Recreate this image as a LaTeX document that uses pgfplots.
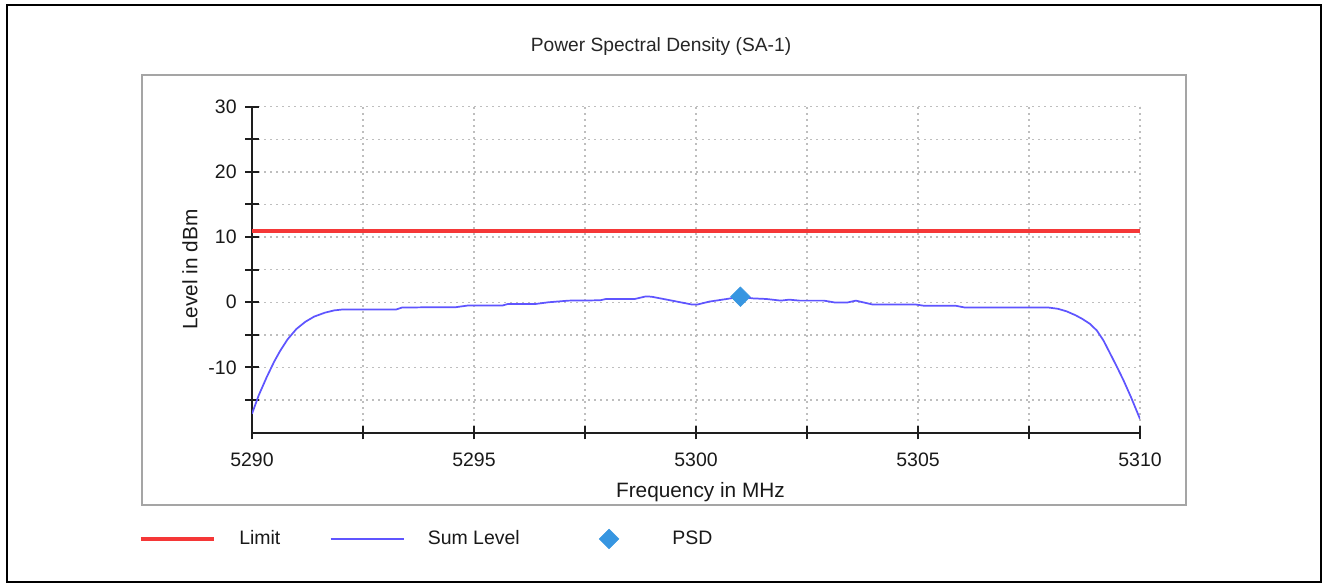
\documentclass[border=0pt]{standalone}
\usepackage{pgfplots}
\pgfplotsset{compat=1.18}
\usepackage{fontspec}
\setmainfont{Liberation Sans}
\definecolor{limitred}{RGB}{245,55,55}
\definecolor{sumblue}{RGB}{95,85,255}
\definecolor{psdblue}{RGB}{55,150,225}
\definecolor{gridgray}{RGB}{190,190,190}
\definecolor{framegray}{RGB}{165,165,165}
\definecolor{axisblack}{RGB}{30,30,30}
\pgfplotsset{
  linelegend/.style={legend image code/.code={\draw[##1] (0pt,0pt) -- (54.75pt,0pt);}},
  marklegend/.style={legend image code/.code={\path[draw=none,fill=none] (0pt,-1pt) rectangle (60pt,1pt);\draw[mark repeat=2,mark phase=2,##1] plot coordinates {(0pt,0pt) (30pt,0pt) (60pt,0pt)};}},
}
\begin{document}
\begin{tikzpicture}
\useasboundingbox (0pt,0pt) rectangle (997.5pt,438pt);
\fill[white] (0pt,0pt) rectangle (997.5pt,438pt);
\draw[black, line width=1.5pt] (5.6pt,1.5pt) rectangle (991.1pt,433.9pt);
\draw[framegray, line width=1.1pt] (106.5pt,59.25pt) rectangle (889.5pt,381.75pt);
\node[font=\fontsize{14.4pt}{17pt}\selectfont, text=black!85] at (495.75pt,402.75pt) {Power Spectral Density (SA-1)};
\begin{axis}[
  at={(189pt,113.5pt)}, anchor=south west,
  scale only axis, width=666pt, height=244.5pt,
  xmin=5290, xmax=5310, ymin=-20, ymax=30,
  axis x line=bottom, axis y line=left,
  axis line style={-, line width=1.5pt, axisblack},
  xtick={5290,5295,...,5310},
  minor xtick={5292.5,5297.5,5302.5,5307.5},
  ytick={-10,0,10,20,30},
  minor ytick={-15,-5,5,15,25},
  tick align=center,
  major tick length=10pt, minor tick length=10pt,
  every tick/.style={axisblack, line width=1.5pt},
  grid=both,
  major grid style={gridgray, line width=1pt, dash pattern=on 1.2pt off 3.3pt},
  minor grid style={gridgray, line width=1pt, dash pattern=on 1.2pt off 3.3pt},
  /pgf/number format/assume math mode=true,
  /pgf/number format/1000 sep={},
  ticklabel style={font=\fontsize{14.6pt}{17pt}\selectfont, text=black!90},
  xticklabel style={yshift=-6.5pt},
  yticklabel style={xshift=-3pt},
  xlabel={Frequency in MHz},
  ylabel={Level in dBm},
  label style={font=\fontsize{15.6pt}{18pt}\selectfont, text=black!90},
  xlabel style={at={(axis description cs:0.505,-0.182)}, anchor=center},
  ylabel style={at={(axis description cs:-0.07,0.5)}, anchor=center},
  legend columns=3,
  legend style={at={(axis description cs:-0.1273,-0.326)}, anchor=west,
    draw=none, fill=none, inner sep=0pt, outer sep=0pt,
    font=\fontsize{14.6pt}{17pt}\selectfont,
    nodes={inner sep=0pt, text=black!90},
    /tikz/every odd column/.append style={column sep=17.5pt},
    /tikz/every even column/.append style={column sep=37pt}},
]
\addplot[limitred, line width=3pt, linelegend] coordinates {(5290,11) (5310,11)};
\addlegendentry{Limit}
\addplot[sumblue, line width=1.3pt, line join=round, linelegend] coordinates {
(5290.00,-17.1) (5290.15,-14.3) (5290.33,-11.5) (5290.50,-9.1) (5290.63,-7.5)
(5290.80,-5.7) (5291.00,-4.1) (5291.20,-3.0) (5291.40,-2.2) (5291.64,-1.6)
(5291.85,-1.25) (5292.05,-1.1) (5293.25,-1.1) (5293.38,-0.8) (5294.60,-0.75)
(5294.86,-0.5) (5295.64,-0.5) (5295.77,-0.25) (5296.40,-0.25) (5296.68,0.0)
(5297.13,0.25) (5297.84,0.3) (5297.97,0.5) (5298.62,0.5) (5298.87,0.9)
(5299.00,0.85) (5299.46,0.25) (5299.91,-0.35) (5300.03,-0.35) (5300.30,0.1)
(5300.69,0.5) (5301.00,0.85) (5301.27,0.6) (5301.59,0.5) (5301.91,0.25)
(5302.10,0.4) (5302.33,0.25) (5302.88,0.25) (5303.14,-0.05) (5303.40,-0.05)
(5303.60,0.25) (5303.98,-0.35) (5304.95,-0.35) (5305.15,-0.55) (5305.86,-0.55)
(5306.05,-0.8) (5307.93,-0.8) (5308.15,-1.0) (5308.35,-1.4) (5308.55,-2.0)
(5308.70,-2.55) (5308.87,-3.3) (5309.03,-4.35) (5309.18,-5.9) (5309.33,-7.9)
(5309.48,-9.9) (5309.63,-12.0) (5309.80,-14.6) (5310.00,-17.9)
};
\addlegendentry{Sum Level}
\addplot[only marks, mark=square*, mark size=5.2pt,
  mark options={rotate=45, fill=psdblue, draw=psdblue}, marklegend
] coordinates {(5301,0.85)};
\addlegendentry{PSD}
\end{axis}
\end{tikzpicture}
\end{document}
